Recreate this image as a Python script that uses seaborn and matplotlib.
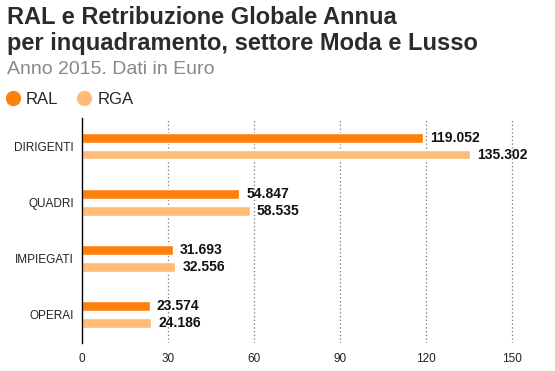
import pandas as pd
import seaborn as sns
import matplotlib.pyplot as plt
from matplotlib.lines import Line2D

# dati (migliaia di euro)
categorie = ['DIRIGENTI', 'QUADRI', 'IMPIEGATI', 'OPERAI']
ral = [119.052, 54.847, 31.693, 23.574]
rga = [135.302, 58.535, 32.556, 24.186]
etichette_x = [0, 30, 60, 90, 120, 150]

colori = {'RAL': '#ff7f0e', 'RGA': '#ffbb78'}

df = pd.DataFrame({
    'categoria': categorie * 2,
    'serie': ['RAL'] * len(categorie) + ['RGA'] * len(categorie),
    'valore': ral + rga,
})

sns.set_style('white')
plt.rcParams['font.family'] = ['Liberation Sans', 'DejaVu Sans']

fig = plt.figure(figsize=(5.55, 3.71), dpi=100)
ax = fig.add_axes([0.148, 0.076, 0.80, 0.606])

sns.barplot(data=df, y='categoria', x='valore', hue='serie', order=categorie,
            hue_order=['RAL', 'RGA'], palette=colori, orient='h',
            width=0.6, gap=0.41, ax=ax, legend=False, saturation=1)

# etichette sui valori
for cont in ax.containers:
    ax.bar_label(cont, labels=[f'{v:.3f}' for v in cont.datavalues],
                 padding=5, fontsize=10, fontweight='bold', color='#111111')

ax.set_xlim(0, 155)
ax.set_ylim(3.5, -0.5)
ax.set_xticks(etichette_x)
ax.set_xticklabels([str(t) for t in etichette_x], fontsize=8.5, color='#222222')
ax.tick_params(axis='y', labelsize=8.5, labelcolor='#222222', pad=6, length=0)
ax.tick_params(axis='x', length=0, pad=7)
ax.set_xlabel('')
ax.set_ylabel('')

for t in etichette_x[1:]:
    ax.axvline(t, color='#777777', linestyle=(0, (1, 2)), linewidth=0.9, zorder=0)

for s in ['top', 'right', 'bottom']:
    ax.spines[s].set_visible(False)
ax.spines['left'].set_color('#000000')
ax.spines['left'].set_linewidth(1)

# titolo e sottotitolo
fig.text(0.013, 0.985, 'RAL e Retribuzione Globale Annua', fontsize=17,
         fontweight='bold', color='#2b2b2b', va='top')
fig.text(0.013, 0.914, 'per inquadramento, settore Moda e Lusso', fontsize=17,
         fontweight='bold', color='#2b2b2b', va='top')
fig.text(0.013, 0.836, 'Anno 2015. Dati in Euro', fontsize=14, color='#888888', va='top')

# legenda
maniglie = [Line2D([0], [0], marker='o', color='w', markerfacecolor=colori[k],
                   markersize=12, label=k) for k in ['RAL', 'RGA']]
fig.legend(handles=maniglie, loc='center left', bbox_to_anchor=(-0.018, 0.733),
           ncol=2, frameon=False, fontsize=12, handletextpad=0.35,
           columnspacing=1.1, handlelength=0.9)

plt.savefig('out.png', dpi=100)
